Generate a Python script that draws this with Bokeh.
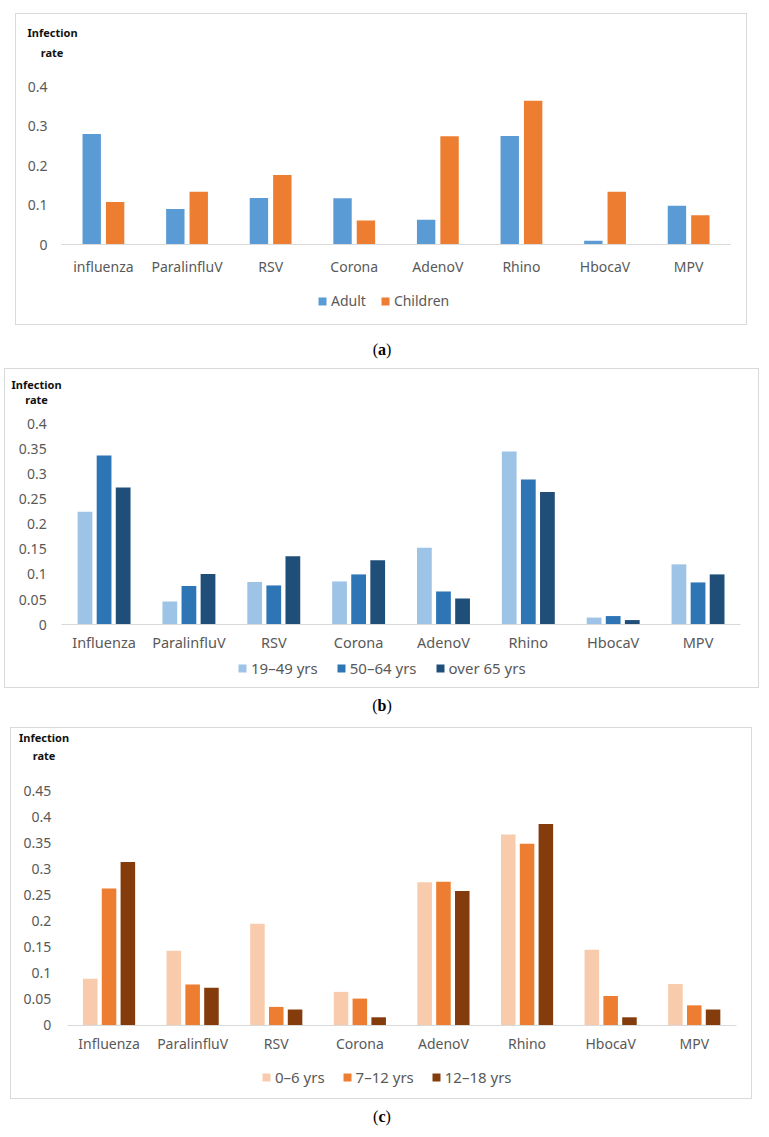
from bokeh.plotting import figure
from bokeh.models import (ColumnDataSource, Range1d, Label, Legend, LegendItem,
                          FixedTicker, Div)
from bokeh.layouts import column
from bokeh.embed import file_html
from bokeh.resources import INLINE

# ---------------- data ----------------
viruses_a = ["influenza", "ParalinfluV", "RSV", "Corona", "AdenoV", "Rhino", "HbocaV", "MPV"]
viruses = ["Influenza", "ParalinfluV", "RSV", "Corona", "AdenoV", "Rhino", "HbocaV", "MPV"]

# (a) adults vs children
adult = [0.281, 0.091, 0.119, 0.118, 0.064, 0.276, 0.011, 0.099]
children = [0.109, 0.135, 0.177, 0.062, 0.275, 0.365, 0.135, 0.075]

# (b) adult age groups
age_19_49 = [0.225, 0.046, 0.085, 0.086, 0.153, 0.345, 0.014, 0.120]
age_50_64 = [0.337, 0.077, 0.078, 0.100, 0.066, 0.289, 0.017, 0.084]
age_65_up = [0.273, 0.101, 0.136, 0.128, 0.052, 0.264, 0.009, 0.100]

# (c) children age groups
age_0_6 = [0.089, 0.143, 0.195, 0.064, 0.275, 0.367, 0.145, 0.079]
age_7_12 = [0.263, 0.078, 0.035, 0.051, 0.276, 0.349, 0.056, 0.038]
age_12_18 = [0.314, 0.072, 0.030, 0.015, 0.258, 0.387, 0.015, 0.030]

ticks_a = [0, 0.1, 0.2, 0.3, 0.4]
tick_labels_a = ["0", "0.1", "0.2", "0.3", "0.4"]
ticks_b = [0, 0.05, 0.1, 0.15, 0.2, 0.25, 0.3, 0.35, 0.4]
tick_labels_b = ["0", "0.05", "0.1", "0.15", "0.2", "0.25", "0.3", "0.35", "0.4"]
ticks_c = [0, 0.05, 0.1, 0.15, 0.2, 0.25, 0.3, 0.35, 0.4, 0.45]
tick_labels_c = ["0", "0.05", "0.1", "0.15", "0.2", "0.25", "0.3", "0.35", "0.4", "0.45"]

legend_a = ["Adult", "Children"]
legend_b = ["19\u201349 yrs", "50\u201364 yrs", "over 65 yrs"]
legend_c = ["0\u20136 yrs", "7\u201312 yrs", "12\u201318 yrs"]

colors_a = ["#5B9BD5", "#ED7D31"]
colors_b = ["#9DC3E6", "#2E75B6", "#1F4E79"]
colors_c = ["#F8CBAD", "#ED7D31", "#843C0C"]

FONT = "Noto Sans"
GREY = "#595959"


def make_panel(cats, series, names, colors, ticks, tick_labels, ymax, geo):
    # geo: page-pixel layout of the panel
    bx, by = geo["box"]
    W, H = geo["size"]
    cx0, cy0 = bx + 1, by + 1               # canvas origin (inside 1px border)
    cl, cr = geo["cats"]                     # page x of category area left / right
    y0p, ytp = geo["yaxis"]                  # page y of value 0 and of value ymax
    n = len(cats)
    ppx = (cr - cl) / n
    ppy = (y0p - ytp) / ymax

    def dx(px):
        return (px - cl) / ppx

    def dy(py):
        return (y0p - py) / ppy

    p = figure(x_range=Range1d(dx(cx0), dx(cx0 + W)),
               y_range=Range1d(dy(cy0 + H), dy(cy0)),
               width=W + 2, height=H + 2, output_backend="svg",
               toolbar_location=None, tools="",
               min_border=0, min_border_left=0, min_border_right=0,
               min_border_top=0, min_border_bottom=0,
               margin=geo["margin"])
    p.title.visible = False
    p.styles = {"border": "1px solid #D9D9D9"}
    p.outline_line_color = None
    p.xgrid.visible = False
    p.ygrid.visible = False

    centers = [i + 0.5 for i in range(n)]
    data = {"cat": cats}
    renderers = []
    for i, (off, col, s) in enumerate(zip(geo["offsets"], colors, series)):
        data["x%d" % i] = [c + off for c in centers]
        data["s%d" % i] = s
    src = ColumnDataSource(data)
    for i, col in enumerate(colors):
        r = p.vbar(x="x%d" % i, top="s%d" % i, width=geo["bar_w"], source=src,
                   fill_color=col, line_color=None)
        renderers.append(r)

    # y axis at the left edge of the category area
    yax = p.yaxis[0]
    yax.fixed_location = 0
    yax.bounds = (0, ymax)
    yax.ticker = FixedTicker(ticks=ticks)
    yax.major_label_overrides = {t: l for t, l in zip(ticks, tick_labels)}
    yax.axis_line_color = None
    yax.major_tick_line_color = None
    yax.minor_tick_line_color = None
    yax.major_tick_out = 0
    yax.major_tick_in = 0
    yax.minor_tick_out = 0
    yax.minor_tick_in = 0
    yax.major_label_standoff = geo["ystand"]
    yax.major_label_text_font = FONT
    yax.major_label_text_font_size = "14px"
    yax.major_label_text_color = GREY

    # x axis at value 0
    xax = p.xaxis[0]
    xax.fixed_location = 0
    xax.bounds = (0, n)
    xax.ticker = FixedTicker(ticks=centers)
    xax.major_label_overrides = {c: name for c, name in zip(centers, cats)}
    xax.axis_line_color = "#D9D9D9"
    xax.axis_line_width = 1
    xax.major_tick_line_color = None
    xax.minor_tick_line_color = None
    xax.major_tick_out = 0
    xax.major_tick_in = 0
    xax.minor_tick_out = 0
    xax.minor_tick_in = 0
    xax.major_label_standoff = geo["xstand"]
    xax.major_label_text_font = FONT
    xax.major_label_text_font_size = geo["xsize"]
    xax.major_label_text_color = GREY

    ix, iy = geo["infection"]
    rx, ry = geo["rate"]
    p.add_layout(Label(x=dx(ix), y=dy(iy), text="Infection",
                       text_font=FONT, text_font_style="bold", text_font_size="11px",
                       text_color="#111111", text_align="left", text_baseline="middle"))
    p.add_layout(Label(x=dx(rx), y=dy(ry), text="rate",
                       text_font=FONT, text_font_style="bold", text_font_size="11px",
                       text_color="#111111", text_align="center", text_baseline="middle"))

    lx, lc = geo["legend"]
    lh = 18
    items = [LegendItem(label=nm, renderers=[r]) for nm, r in zip(names, renderers)]
    leg = Legend(items=items, orientation="horizontal",
                 location=(lx - cx0, (cy0 + H) - (lc + lh / 2)),
                 padding=0, margin=0, spacing=geo["lspace"],
                 glyph_width=10, glyph_height=10, label_standoff=4,
                 label_height=lh, label_text_font=FONT, label_text_font_size=geo["lsize"],
                 label_text_color=GREY, border_line_color=None,
                 background_fill_alpha=0)
    p.add_layout(leg)
    return p


geo_a = dict(box=(15, 13), size=(730, 310), cats=(61, 728), yaxis=(243, 86),
             margin=(13, 0, 0, 15), offsets=[-0.14, 0.14], bar_w=0.22,
             ystand=14, xstand=12, xsize="14px",
             infection=(27, 32), rate=(51.5, 52),
             legend=(317, 299), lsize="14px", lspace=14)
geo_b = dict(box=(4, 368), size=(753, 318), cats=(61, 738), yaxis=(622.5, 423),
             margin=(0, 0, 0, 4), offsets=[-0.225, 0.0, 0.225], bar_w=0.174,
             ystand=15, xstand=7, xsize="14.5px",
             infection=(11, 383.5), rate=(36, 399),
             legend=(237, 667), lsize="15px", lspace=18)
geo_c = dict(box=(10, 727), size=(740, 370), cats=(66.6, 733.6), yaxis=(1023, 790.5),
             margin=(0, 0, 0, 10), offsets=[-0.225, 0.0, 0.225], bar_w=0.174,
             ystand=16, xstand=9, xsize="14px",
             infection=(18.5, 736.5), rate=(43.5, 755),
             legend=(261, 1076), lsize="15px", lspace=17)

pa = make_panel(viruses_a, [adult, children], legend_a, colors_a,
                ticks_a, tick_labels_a, 0.4, geo_a)
pb = make_panel(viruses, [age_19_49, age_50_64, age_65_up], legend_b, colors_b,
                ticks_b, tick_labels_b, 0.4, geo_b)
pc = make_panel(viruses, [age_0_6, age_7_12, age_12_18], legend_c, colors_c,
                ticks_c, tick_labels_c, 0.45, geo_c)


def caption(letter, pad, h):
    return Div(text='<div style="width:764px;text-align:center;padding-top:%dpx;'
                    'font-family:\'Liberation Serif\',\'DejaVu Serif\',serif;'
                    'font-size:16px;line-height:18px;color:#000;">(<b>%s</b>)</div>' % (pad, letter),
               width=764, height=h, margin=0)


cap_a = caption("a", 16, 43)
cap_b = caption("b", 9, 39)
cap_c = caption("c", 9, 30)

layout = column(pa, cap_a, pb, cap_b, pc, cap_c, spacing=0)
open("out.html", "w").write(file_html(layout, INLINE))
